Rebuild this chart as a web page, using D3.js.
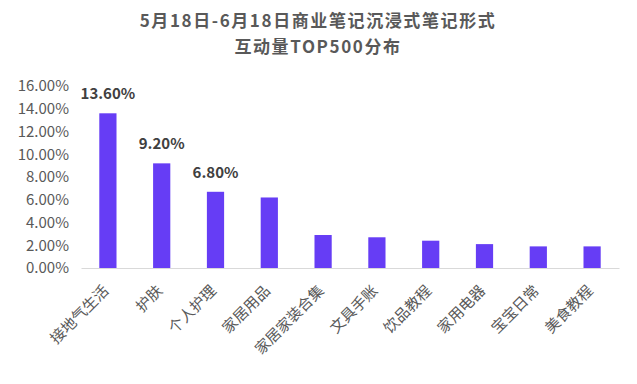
<!DOCTYPE html>
<html>
<head>
<meta charset="utf-8">
<script src="https://cdn.jsdelivr.net/npm/d3@7"></script>
<style>
  body { margin: 0; background: #fff; }
  svg { font-family: "Noto Sans CJK SC", "Noto Sans", sans-serif; }
</style>
</head>
<body>
<svg></svg>
<script>
const categories = ['接地气生活', '护肤', '个人护理', '家居用品', '家居家装合集', '文具手账', '饮品教程', '家用电器', '宝宝日常', '美食教程'];
const values = [13.6, 9.2, 6.7, 6.2, 2.9, 2.7, 2.4, 2.1, 1.9, 1.9];
const labelled = ['13.60%', '9.20%', '6.80%'];
const yTicks = [0, 2, 4, 6, 8, 10, 12, 14, 16];
const titleLines = ['5月18日-6月18日商业笔记沉浸式笔记形式', '互动量TOP500分布'];

const [width, height] = [637, 384];
const margin = { top: 86, right: 18, bottom: 116, left: 81 };

const data = categories.map((c, i) => ({ name: c, value: values[i], label: labelled[i] }));

const svg = d3.select('svg')
    .attr('width', width)
    .attr('height', height);

const xScale = d3.scaleBand()
    .domain(categories)
    .range([margin.left, width - margin.right])
    .paddingInner(0.68)
    .paddingOuter(0.34);

const yScale = d3.scaleLinear()
    .domain([0, 16])
    .range([height - margin.bottom, margin.top]);

// title
svg.append('g')
    .selectAll('text')
    .data(titleLines)
    .join('text')
    .attr('x', 318)
    .attr('y', (d, i) => 27 + i * 26)
    .attr('text-anchor', 'middle')
    .attr('font-size', 17)
    .attr('font-weight', 'bold')
    .attr('letter-spacing', 1.6)
    .attr('fill', '#595959')
    .text(d => d);

// y axis (labels only)
const yAxis = d3.axisLeft(yScale)
    .tickValues(yTicks)
    .tickSize(0)
    .tickPadding(12)
    .tickFormat(d => d.toFixed(2) + '%');

svg.append('g')
    .attr('transform', `translate(${margin.left},0)`)
    .call(yAxis)
    .call(g => g.select('.domain').remove())
    .call(g => g.selectAll('text')
        .attr('font-size', 15)
        .attr('font-family', '"Noto Sans CJK SC", "Noto Sans", sans-serif')
        .attr('fill', '#595959'));

// bars
svg.append('g')
    .selectAll('rect')
    .data(data)
    .join('rect')
    .attr('x', d => xScale(d.name))
    .attr('y', d => yScale(d.value))
    .attr('width', xScale.bandwidth())
    .attr('height', d => yScale(0) - yScale(d.value))
    .attr('fill', '#663df5');

// value labels on the first three bars
svg.append('g')
    .selectAll('text')
    .data(data.filter(d => d.label))
    .join('text')
    .attr('x', d => xScale(d.name) + xScale.bandwidth() / 2)
    .attr('y', d => yScale(d.value) - 14)
    .attr('text-anchor', 'middle')
    .attr('font-size', 15)
    .attr('font-weight', 'bold')
    .attr('fill', '#404040')
    .text(d => d.label);

// x axis
const xAxis = d3.axisBottom(xScale)
    .tickSize(0)
    .tickPadding(0);

svg.append('g')
    .attr('transform', `translate(0,${yScale(0)})`)
    .call(xAxis)
    .call(g => g.select('.domain').attr('stroke', '#d9d9d9').attr('stroke-width', 1))
    .call(g => g.selectAll('text')
        .attr('font-size', 15)
        .attr('font-family', '"Noto Sans CJK SC", "Noto Sans", sans-serif')
        .attr('fill', '#595959')
        .attr('text-anchor', 'end')
        .attr('dy', '0.35em')
        .attr('transform', 'translate(-2,20) rotate(-45)'));
</script>
</body>
</html>
